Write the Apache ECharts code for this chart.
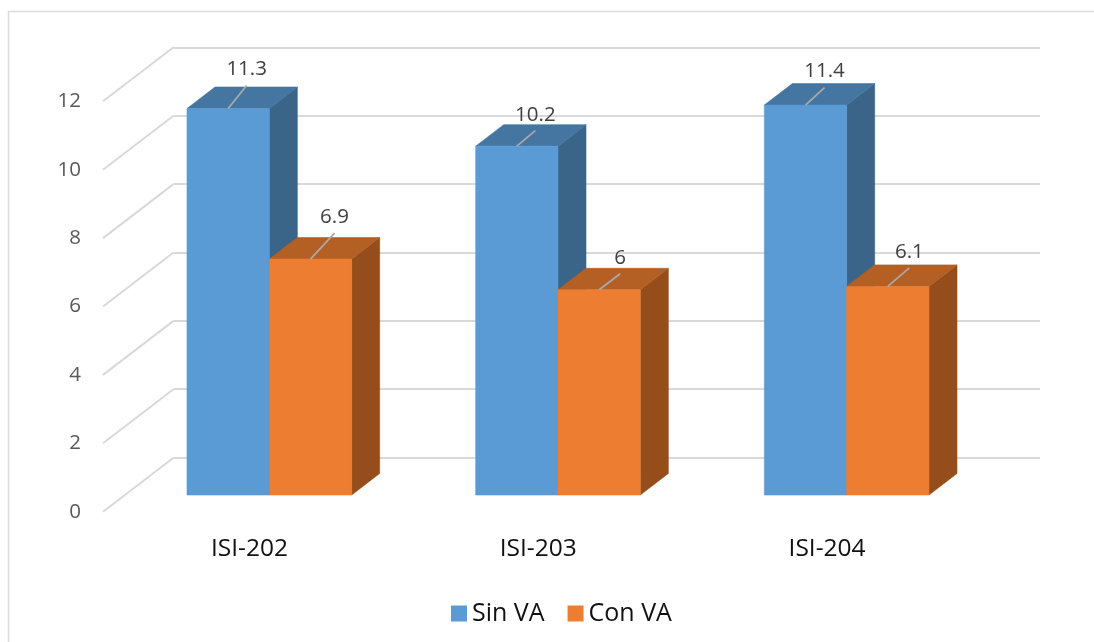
<!DOCTYPE html>
<html>
<head>
<meta charset="utf-8">
<style>html,body{margin:0;padding:0;background:#fff}#chart{width:1094px;height:642px}</style>
<script src="https://cdn.jsdelivr.net/npm/echarts@6/dist/echarts.min.js"></script>
</head>
<body>
<div id="chart"></div>
<script>
// Scores per course, with and without VA
var categories = ['ISI-202', 'ISI-203', 'ISI-204'];
var sinVA = [11.3, 10.2, 11.4];
var conVA = [6.9, 6, 6.1];
var yTicks = { min: 0, max: 12, interval: 2 };

// Where each value label sits relative to the top-front edge of its bar
var sinLabelNudge = [[18.5, -23], [18.5, -15.5], [19, -17.5]];
var conLabelNudge = [[24, -26], [21, -16], [21.5, -18.5]];

// Projection used for the 3D look
var BAR_DEPTH = [28, -21.5];
var WALL_DEPTH = [70.5, -54];
var BAR_RATIO = 0.2852;
var FONT = '"Open Sans", sans-serif';
var GRID_GREY = '#d9d9d9';

var palette = {
  sin: { front: '#5b9bd5', top: '#4575a1', side: '#3a6488' },
  con: { front: '#ed7d31', top: '#b45f23', side: '#954e1b' }
};

function shiftPoint(p, d) { return [p[0] + d[0], p[1] + d[1]]; }

function poly(points, fill, stroke) {
  return {
    type: 'polygon',
    shape: { points: points },
    style: { fill: fill, stroke: stroke || fill, lineWidth: 0.6 }
  };
}

// One 3D bar: side and top faces, front face, then the leader line and value label
function barRenderer(colors, side, nudges) {
  return function (params, api) {
    var idx = api.value(0);
    var value = api.value(1);
    var top = api.coord([idx, value]);
    var base = api.coord([idx, 0]);
    var w = api.size([1, 0])[0] * BAR_RATIO;
    var x0 = side < 0 ? top[0] - w : top[0];
    var x1 = x0 + w;
    var tl = [x0, top[1]], tr = [x1, top[1]], br = [x1, base[1]], bl = [x0, base[1]];
    var n = nudges[params.dataIndex];
    var anchor = [(x0 + x1) / 2, top[1]];
    var tip = shiftPoint(anchor, n);
    return {
      type: 'group',
      children: [
        poly([tr, br, shiftPoint(br, BAR_DEPTH), shiftPoint(tr, BAR_DEPTH)], colors.side),
        poly([tl, tr, shiftPoint(tr, BAR_DEPTH), shiftPoint(tl, BAR_DEPTH)], colors.top),
        poly([tl, tr, br, bl], colors.front),
        {
          type: 'line',
          shape: { x1: anchor[0], y1: anchor[1], x2: tip[0], y2: tip[1] },
          style: { stroke: '#a9a9a9', lineWidth: 1.8 }
        },
        {
          type: 'text',
          style: {
            x: tip[0],
            y: tip[1] - 5.5,
            text: String(value),
            fill: '#404040',
            font: '20.5px ' + FONT,
            align: 'center',
            verticalAlign: 'bottom'
          }
        }
      ]
    };
  };
}

// Slanted gridline stubs joining the value labels to the back wall
function stubRenderer(params, api) {
  var p = api.coord([0, api.value(0)]);
  var start = [params.coordSys.x, p[1]];
  var end = shiftPoint(start, WALL_DEPTH);
  return {
    type: 'line',
    shape: { x1: start[0], y1: start[1], x2: end[0], y2: end[1] },
    style: { stroke: GRID_GREY, lineWidth: 2 }
  };
}

var stubValues = [];
for (var v = yTicks.min; v <= yTicks.max; v += yTicks.interval) stubValues.push([v]);

var plainY = {
  type: 'value', min: yTicks.min, max: yTicks.max, interval: yTicks.interval,
  axisLine: { show: false }, axisTick: { show: false }
};
var plainX = {
  type: 'category', data: categories,
  axisLine: { show: false }, axisTick: { show: false }
};

var chart = echarts.init(document.getElementById('chart'), null, { renderer: 'canvas' });
chart.setOption({
  animation: false,
  backgroundColor: '#ffffff',
  graphic: [{
    type: 'polyline',
    silent: true,
    shape: { points: [[8.5, 660], [8.5, 11.5], [1110, 11.5]] },
    style: { stroke: '#dcdcdc', lineWidth: 1.5, fill: null }
  }],
  legend: {
    left: 451,
    top: 601,
    padding: 0,
    itemWidth: 16,
    itemHeight: 16,
    itemGap: 23,
    icon: 'rect',
    selectedMode: false,
    data: ['Sin VA', 'Con VA'],
    textStyle: { fontFamily: FONT, fontSize: 25, lineHeight: 18, color: '#111111' }
  },
  grid: [
    // back wall
    { left: 173.5, top: 47.5, width: 866.5, height: 410 },
    // front edge, carries the axis labels
    { left: 103, top: 101.3, width: 866.5, height: 410.4 },
    // plane the bars stand on
    { left: 125, top: 84.6, width: 866, height: 410.4 }
  ],
  xAxis: [
    Object.assign({}, plainX, { gridIndex: 0, axisLabel: { show: false } }),
    Object.assign({}, plainX, {
      gridIndex: 1,
      axisLabel: { margin: 25, padding: [0, 0, 0, 4], color: '#111111', fontFamily: FONT, fontSize: 24.5 }
    }),
    Object.assign({}, plainX, { gridIndex: 2, axisLabel: { show: false } })
  ],
  yAxis: [
    Object.assign({}, plainY, {
      gridIndex: 0,
      axisLabel: { show: false },
      splitLine: { show: true, lineStyle: { color: GRID_GREY, width: 2 } }
    }),
    Object.assign({}, plainY, {
      gridIndex: 1,
      axisLabel: { margin: 22, color: '#595959', fontFamily: FONT, fontSize: 20.5 },
      splitLine: { show: false }
    }),
    Object.assign({}, plainY, {
      gridIndex: 2,
      axisLabel: { show: false },
      splitLine: { show: false }
    })
  ],
  series: [
    {
      type: 'custom',
      name: 'stubs',
      xAxisIndex: 1,
      yAxisIndex: 1,
      silent: true,
      data: stubValues,
      encode: { y: 0 },
      renderItem: stubRenderer
    },
    {
      type: 'custom',
      name: 'Sin VA',
      xAxisIndex: 2,
      yAxisIndex: 2,
      itemStyle: { color: palette.sin.front },
      encode: { x: 0, y: 1 },
      data: sinVA.map(function (v, i) { return [i, v]; }),
      renderItem: barRenderer(palette.sin, -1, sinLabelNudge)
    },
    {
      type: 'custom',
      name: 'Con VA',
      xAxisIndex: 2,
      yAxisIndex: 2,
      itemStyle: { color: palette.con.front },
      encode: { x: 0, y: 1 },
      data: conVA.map(function (v, i) { return [i, v]; }),
      renderItem: barRenderer(palette.con, 1, conLabelNudge)
    }
  ]
});
</script>
</body>
</html>
